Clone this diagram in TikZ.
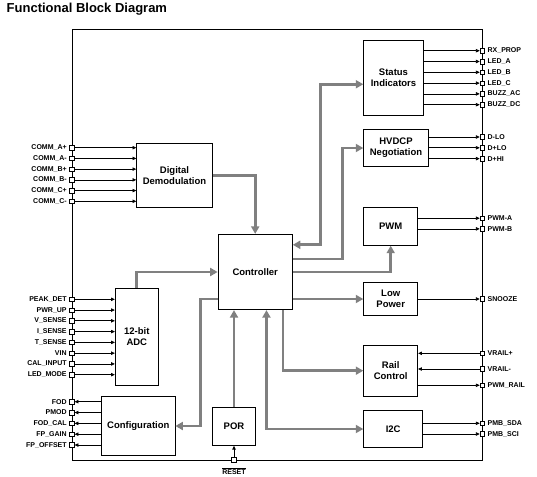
\documentclass[tikz,border=0pt]{standalone}
\usepackage{fontspec}
\setmainfont{Liberation Sans}
\usetikzlibrary{arrows.meta,calc}
\definecolor{busgray}{RGB}{128,128,128}
\tikzset{
  blk/.style={draw, line width=0.8pt, fill=white, inner sep=0pt, align=center,
    font=\fontsize{9.5}{11}\selectfont\bfseries},
  pin/.style={draw, line width=0.5pt, fill=white, minimum size=4.6pt, inner sep=0pt},
  plab/.style={font=\fontsize{7}{8}\selectfont\bfseries, inner sep=0pt},
  sig/.style={line width=0.7pt, -{Triangle[length=3.8pt,width=3.4pt]}},
  bus/.style={line width=2.7pt, draw=busgray, -{Triangle[length=7.5pt,width=8pt]}},
  busboth/.style={line width=2.7pt, draw=busgray, {Triangle[length=7.5pt,width=8pt]}-{Triangle[length=7.5pt,width=8pt]}},
}
\begin{document}
\begin{tikzpicture}[x=1pt,y=-1pt,label distance=2.6pt]
\useasboundingbox (0,0) rectangle (537,476);
% title
\node[anchor=west, inner sep=0pt, font=\fontsize{13}{15}\selectfont\bfseries] (title) at (6.5,9.5) {Functional Block Diagram};
% outer boundary
\draw[line width=0.8pt] (72,29.3) rectangle (482.3,460);
% blocks
\node[blk, minimum width=75.6pt, minimum height=64pt] (dd) at (174.5,175.3) {Digital\\Demodulation};
\node[blk, minimum width=74.3pt, minimum height=75.4pt] (ctl) at (255.2,272) {Controller};
\node[blk, minimum width=43pt, minimum height=96.7pt] (adc) at (136.8,336.7) {12-bit\\ADC};
\node[blk, minimum width=73.3pt, minimum height=59.4pt] (cfg) at (138.3,426) {Configuration};
\node[blk, minimum width=43.4pt, minimum height=38pt] (por) at (234,426.3) {POR};
\node[blk, minimum width=59.6pt, minimum height=75pt] (st) at (393.5,77.8) {Status\\Indicators};
\node[blk, minimum width=64.6pt, minimum height=37.4pt] (hv) at (396,148) {HVDCP\\Negotiation};
\node[blk, minimum width=54pt, minimum height=38pt] (pwm) at (390.7,226.3) {PWM};
\node[blk, minimum width=54pt, minimum height=32.6pt] (lp) at (390.7,299) {Low\\Power};
\node[blk, minimum width=54pt, minimum height=50.7pt] (rail) at (390.7,370.7) {Rail\\Control};
\node[blk, minimum width=59pt, minimum height=37.4pt] (i2c) at (393.2,429) {I2C};
% left pins: communication inputs
\foreach \i/\t in {0/COMM\_A+,1/COMM\_A-,2/COMM\_B+,3/COMM\_B-,4/COMM\_C+,5/COMM\_C-}{
  \node[pin, label={[plab]left:\t}] (cm\i) at (72,147.7+10.72*\i) {};
  \draw[sig] (cm\i) -- (cm\i -| dd.west);
}
% left pins: ADC inputs
\foreach \i/\t in {0/PEAK\_DET,1/PWR\_UP,2/V\_SENSE,3/I\_SENSE,4/T\_SENSE,5/VIN,6/CAL\_INPUT,7/LED\_MODE}{
  \node[pin, label={[plab]left:\t}] (ad\i) at (72,299.3+10.77*\i) {};
  \draw[sig] (ad\i) -- (ad\i -| adc.west);
}
% left pins: configuration outputs
\foreach \i/\t in {0/FOD,1/PMOD,2/FOD\_CAL,3/FP\_GAIN,4/FP\_OFFSET}{
  \node[pin, label={[plab]left:\t}] (cf\i) at (72,401.7+10.83*\i) {};
  \draw[sig] (cf\i -| cfg.west) -- (cf\i);
}
% right pins: status
\foreach \i/\t in {0/RX\_PROP,1/LED\_A,2/LED\_B,3/LED\_C,4/BUZZ\_AC,5/BUZZ\_DC}{
  \node[pin, label={[plab]right:\t}] (so\i) at (482.3,50.7+10.8*\i) {};
  \draw[sig] (so\i -| st.east) -- (so\i);
}
% right pins: HVDCP
\foreach \i/\t in {0/D-LO,1/D+LO,2/D+HI}{
  \node[pin, label={[plab]right:\t}] (hp\i) at (482.3,137+10.8*\i) {};
  \draw[sig] (hp\i -| hv.east) -- (hp\i);
}
% right pins: PWM
\foreach \i/\t in {0/PWM-A,1/PWM-B}{
  \node[pin, label={[plab]right:\t}] (pw\i) at (482.3,218.2+10.7*\i) {};
  \draw[sig] (pw\i -| pwm.east) -- (pw\i);
}
% right pin: snooze
\node[pin, label={[plab]right:SNOOZE}] (snz) at (482.3,299) {};
\draw[sig] (lp.east) -- (snz);
% right pins: rail
\node[pin, label={[plab]right:VRAIL+}] (vrp) at (482.3,353.3) {};
\node[pin, label={[plab]right:VRAIL-}] (vrm) at (482.3,369) {};
\node[pin, label={[plab]right:PWM\_RAIL}] (pwr) at (482.3,385.3) {};
\draw[sig] (vrp) -- (vrp -| rail.east);
\draw[sig] (vrm) -- (vrm -| rail.east);
\draw[sig] (pwr -| rail.east) -- (pwr);
% right pins: I2C
\node[pin, label={[plab]right:PMB\_SDA}] (sda) at (482.3,423.3) {};
\node[pin, label={[plab]right:PMB\_SCI}] (sci) at (482.3,434) {};
\draw[sig] (sda -| i2c.east) -- (sda);
\draw[sig] (sci -| i2c.east) -- (sci);
% reset pin
\node[pin, label={[plab,label distance=5pt]below:$\overline{\mbox{RESET}}$}] (rst) at (por.south |- 0,460) {};
\draw[sig] (rst) -- (por.south);
% internal buses
\draw[bus] (dd.east) -| (ctl.north);
\draw[bus] (adc.north) |- (ctl.west);
\draw[bus] (ctl.west |- lp.west) -- ++(-17,0) |- (cfg.east);
\draw[bus] (por.north) -- (por.north |- ctl.south);
\draw[busboth] ($(ctl.south west)!0.65!(ctl.south east)$) |- (i2c.west);
\draw[bus] ($(ctl.south west)!0.87!(ctl.south east)$) |- (rail.west);
\draw[bus] (ctl.east |- lp.west) -- (lp.west);
\draw[bus] (ctl.east) -| (pwm.south);
\draw[bus] ($(ctl.north east)!0.33!(ctl.south east)$) -- ++(50,0) |- (hv.west);
\draw[busboth] ($(ctl.north east)!0.143!(ctl.south east)$) -- ++(28,0) |- ($(st.north west)!0.585!(st.south west)$);
\end{tikzpicture}
\end{document}
